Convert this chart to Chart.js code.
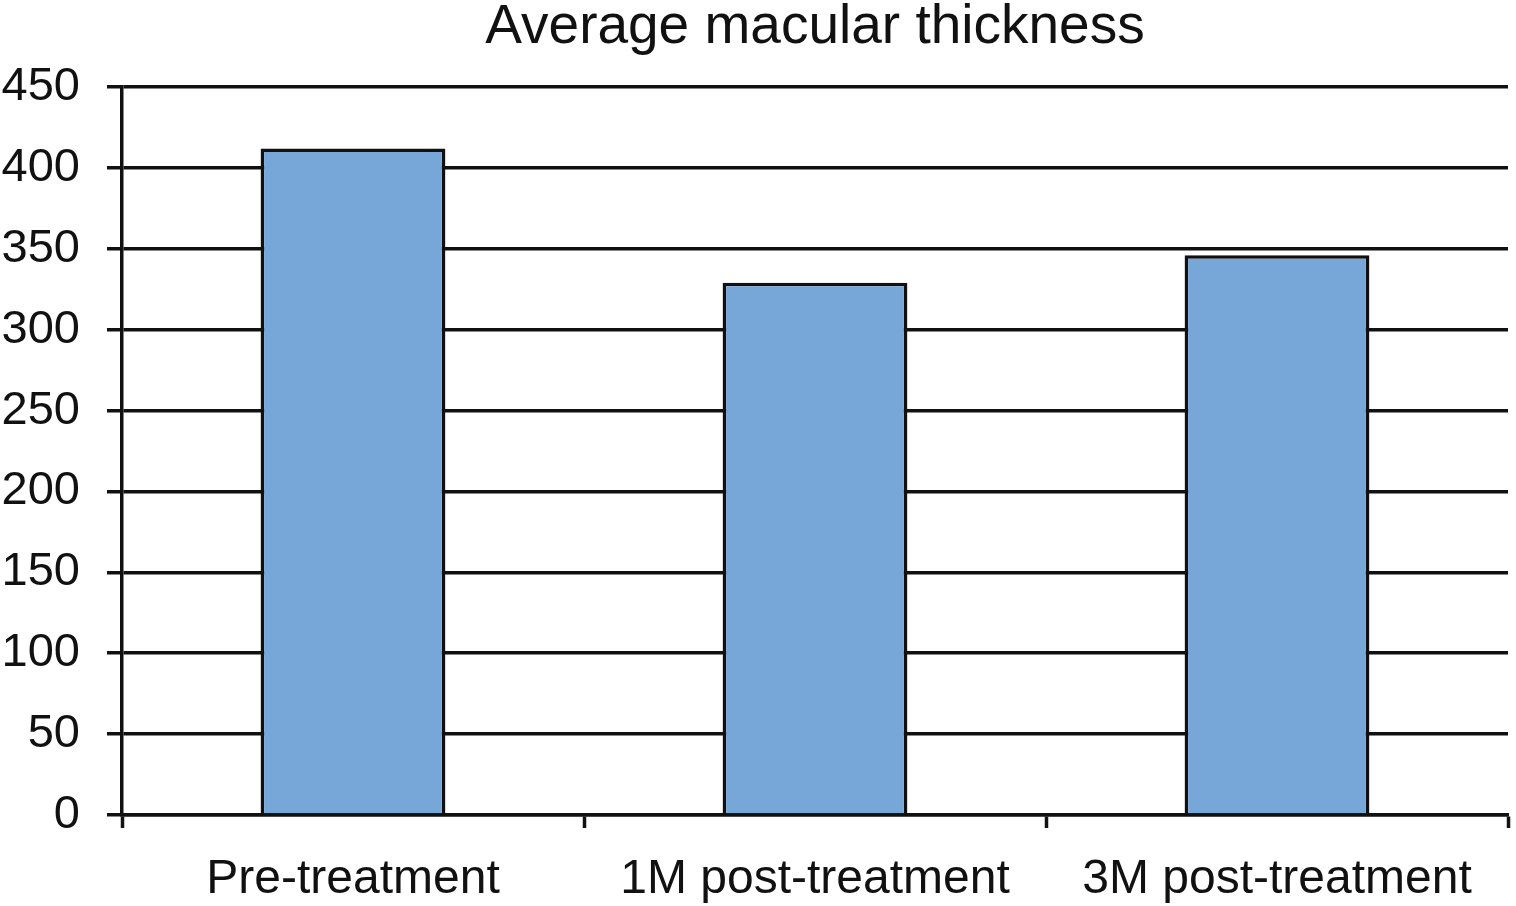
<!DOCTYPE html>
<html>
<head>
<meta charset="utf-8">
<style>
  html, body { margin: 0; padding: 0; background: #fff; }
  #wrap { width: 1516px; height: 906px; }
</style>
<script src="https://cdn.jsdelivr.net/npm/chart.js@4/dist/chart.umd.min.js"></script>
</head>
<body>
<div id="wrap"><canvas id="chart" width="1516" height="906"></canvas></div>
<script>
  var categories = ['Pre-treatment', '1M post-treatment', '3M post-treatment'];
  var thickness = [412, 329, 346];
  var yTicks = [0, 50, 100, 150, 200, 250, 300, 350, 400, 450];

  var fontFamily = "'Liberation Sans', Arial, Helvetica, sans-serif";
  Chart.defaults.font.family = fontFamily;
  Chart.defaults.color = '#111';

  new Chart(document.getElementById('chart'), {
    type: 'bar',
    data: {
      labels: categories,
      datasets: [{
        label: 'Average macular thickness',
        data: thickness,
        backgroundColor: '#77a7d8',
        borderColor: '#111',
        borderWidth: 3.5,
        barPercentage: 0.4,
        categoryPercentage: 1
      }]
    },
    options: {
      responsive: false,
      animation: false,
      layout: { padding: { left: 0, right: 8, top: 0, bottom: 0 } },
      plugins: {
        legend: { display: false },
        tooltip: { enabled: false },
        title: {
          display: true,
          fullSize: false,
          text: 'Average macular thickness',
          color: '#111',
          font: { size: 55, weight: 'normal', lineHeight: 1 },
          padding: { top: 0, bottom: 32 }
        }
      },
      scales: {
        x: {
          afterFit: function (scale) { scale.height = 91; },
          grid: {
            offset: true,
            drawOnChartArea: false,
            drawTicks: true,
            tickLength: 13,
            tickWidth: 3.5,
            tickColor: '#111'
          },
          border: { display: true, color: '#111', width: 3.5 },
          ticks: {
            color: '#111',
            font: { size: 48 },
            padding: 23,
            maxRotation: 0
          }
        },
        y: {
          min: 0,
          max: 450,
          afterBuildTicks: function (scale) {
            scale.ticks = yTicks.map(function (v) { return { value: v }; });
          },
          afterFit: function (scale) { scale.width = 122; },
          grid: {
            color: '#111',
            lineWidth: 3.5,
            drawTicks: true,
            tickLength: 15,
            tickColor: '#111'
          },
          border: { display: true, color: '#111', width: 3.5 },
          ticks: {
            color: '#111',
            font: { size: 47 },
            padding: 27
          }
        }
      }
    }
  });
</script>
</body>
</html>
